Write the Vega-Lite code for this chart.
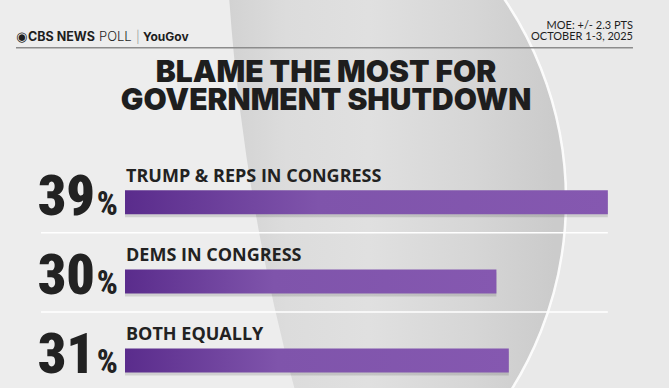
{
  "$schema": "https://vega.github.io/schema/vega-lite/v6.json",
  "width": 669,
  "height": 388,
  "autosize": "none",
  "padding": 0,
  "background": "#ededed",
  "config": {"view": {"stroke": null}},
  "data": {
    "values": [
      {"row": 0, "label": "TRUMP & REPS IN CONGRESS", "pct": 39},
      {"row": 1, "label": "DEMS IN CONGRESS", "pct": 30},
      {"row": 2, "label": "BOTH EQUALLY", "pct": 31}
    ]
  },
  "encoding": {
    "y": {
      "field": "row",
      "type": "quantitative",
      "scale": {"domain": [-2.4923, 2.2831], "reverse": true, "nice": false, "zero": false},
      "axis": null
    },
    "x": {"field": "pct", "type": "quantitative", "scale": {"domain": [-10.097, 43.94], "nice": false, "zero": false}, "axis": null}
  },
  "layer": [
    {
      "transform": [{"filter": "datum.row == 0"}],
      "layer": [
        {
          "mark": {
            "type": "point", "shape": "circle", "filled": true, "size": 17066814, "opacity": 1, "strokeWidth": 0, "clip": true,
            "fill": {
              "gradient": "linear", "x1": 0, "y1": 0, "x2": 0.1, "y2": 0,
              "stops": [
                {"offset": 0, "color": "#d1d1d1"},
                {"offset": 0.05, "color": "#d5d5d5"},
                {"offset": 0.15, "color": "#dcdcdc"},
                {"offset": 0.35, "color": "#e0e0e0"},
                {"offset": 0.6, "color": "#d6d6d6"},
                {"offset": 0.8, "color": "#cbcbcb"},
                {"offset": 1, "color": "#cbcbcb"}
              ]
            }
          },
          "encoding": {
            "x": {"datum": 174.85, "type": "quantitative"},
            "y": {"datum": -4.4111, "type": "quantitative"}
          }
        },
        {
          "mark": {"type": "point", "shape": "circle", "filled": false, "size": 1440000, "opacity": 1, "strokeWidth": 486, "color": "#e9e9e9", "clip": true},
          "encoding": {
            "x": {"datum": 6.785, "type": "quantitative"},
            "y": {"datum": -0.0308, "type": "quantitative"}
          }
        },
        {
          "mark": {"type": "point", "shape": "circle", "filled": false, "size": 509796, "opacity": 0.9, "strokeWidth": 2.5, "color": "#ffffff", "clip": true},
          "encoding": {
            "x": {"datum": 6.785, "type": "quantitative"},
            "y": {"datum": -0.0308, "type": "quantitative"}
          }
        }
      ]
    },
    {
      "transform": [{"filter": "datum.row < 2"}],
      "mark": {"type": "rule", "color": "#ffffff", "strokeWidth": 1.5, "yOffset": 30.5},
      "encoding": {
        "x": {"datum": -6.785, "type": "quantitative"},
        "x2": {"datum": 39}
      }
    },
    {
      "mark": {"type": "bar", "orient": "horizontal", "height": 24, "yOffset": 3, "color": "#000000", "opacity": 0.12},
      "encoding": {
        "x2": {"datum": 0}
      }
    },
    {
      "mark": {
        "type": "bar",
        "orient": "horizontal",
        "height": 24,
        "fill": {
          "gradient": "linear",
          "x1": 0, "y1": 0, "x2": 1, "y2": 0,
          "stops": [
            {"offset": 0, "color": "#5a2c8c"},
            {"offset": 0.4, "color": "#7f54ab"},
            {"offset": 1, "color": "#8558b0"}
          ]
        }
      },
      "encoding": {
        "x2": {"datum": 0}
      }
    },
    {
      "mark": {"type": "text", "align": "left", "baseline": "alphabetic", "dx": 1, "dy": -20.5, "font": "Open Sans", "fontWeight": 700, "fontSize": 18, "color": "#222222"},
      "encoding": {
        "x": {"datum": 0, "type": "quantitative"},
        "text": {"field": "label", "type": "nominal"}
      }
    },
    {
      "mark": {"type": "text", "align": "right", "baseline": "alphabetic", "dx": -30, "dy": 12.5, "font": "Roboto Condensed", "fontWeight": 900, "fontSize": 56, "color": "#222222"},
      "encoding": {
        "x": {"datum": 0, "type": "quantitative"},
        "text": {"field": "pct"}
      }
    },
    {
      "mark": {"type": "text", "align": "right", "baseline": "alphabetic", "dx": -7, "dy": 12.5, "font": "Roboto Condensed", "fontWeight": 800, "fontSize": 33, "color": "#222222", "text": "%"},
      "encoding": {
        "x": {"datum": 0, "type": "quantitative"}
      }
    },
    {
      "transform": [{"filter": "datum.row == 0"}],
      "layer": [
        {
          "mark": {"type": "rule", "color": "#8c8c8c", "strokeWidth": 1.5},
          "encoding": {
            "x": {"datum": -8.805, "type": "quantitative"},
            "x2": {"datum": 41.03},
            "y": {"datum": -1.9508, "type": "quantitative"}
          }
        },
        {
          "mark": {"type": "text", "align": "center", "baseline": "alphabetic", "font": "Inter", "fontWeight": 900, "fontSize": 30, "lineHeight": 28, "color": "#1e1e1e", "text": ["BLAME THE MOST FOR", "GOVERNMENT SHUTDOWN"]},
          "encoding": {
            "x": {"datum": 16.235, "type": "quantitative"},
            "y": {"datum": -1.52, "type": "quantitative"}
          }
        },
        {
          "mark": {"type": "text", "align": "left", "baseline": "alphabetic", "font": "DejaVu Sans", "fontSize": 13, "color": "#1e1e1e", "text": "◉"},
          "encoding": {
            "x": {"datum": -8.805, "type": "quantitative"},
            "y": {"datum": -2.0369, "type": "quantitative"}
          }
        },
        {
          "mark": {"type": "text", "align": "left", "baseline": "alphabetic", "dx": 12, "font": "Inter", "fontWeight": 700, "fontSize": 12.5, "color": "#1e1e1e", "text": "CBS NEWS"},
          "encoding": {
            "x": {"datum": -8.805, "type": "quantitative"},
            "y": {"datum": -2.0369, "type": "quantitative"}
          }
        },
        {
          "mark": {"type": "text", "align": "left", "baseline": "alphabetic", "dx": 83, "font": "Inter", "fontWeight": 300, "fontSize": 13, "color": "#1e1e1e", "text": "POLL"},
          "encoding": {
            "x": {"datum": -8.805, "type": "quantitative"},
            "y": {"datum": -2.0369, "type": "quantitative"}
          }
        },
        {
          "mark": {"type": "text", "align": "left", "baseline": "alphabetic", "dx": 120, "font": "Inter", "fontWeight": 300, "fontSize": 12, "color": "#9a9a9a", "text": "|"},
          "encoding": {
            "x": {"datum": -8.805, "type": "quantitative"},
            "y": {"datum": -2.0369, "type": "quantitative"}
          }
        },
        {
          "mark": {"type": "text", "align": "left", "baseline": "alphabetic", "dx": 127, "font": "Inter", "fontWeight": 700, "fontSize": 12, "color": "#1e1e1e", "text": "YouGov"},
          "encoding": {
            "x": {"datum": -8.805, "type": "quantitative"},
            "y": {"datum": -2.0369, "type": "quantitative"}
          }
        },
        {
          "mark": {"type": "text", "align": "right", "baseline": "alphabetic", "font": "Lato", "fontWeight": 400, "fontSize": 11, "lineHeight": 11, "color": "#1e1e1e", "text": ["MOE: +/- 2.3 PTS", "OCTOBER 1-3, 2025"]},
          "encoding": {
            "x": {"datum": 41.03, "type": "quantitative"},
            "y": {"datum": -2.1846, "type": "quantitative"}
          }
        }
      ]
    }
  ]
}
